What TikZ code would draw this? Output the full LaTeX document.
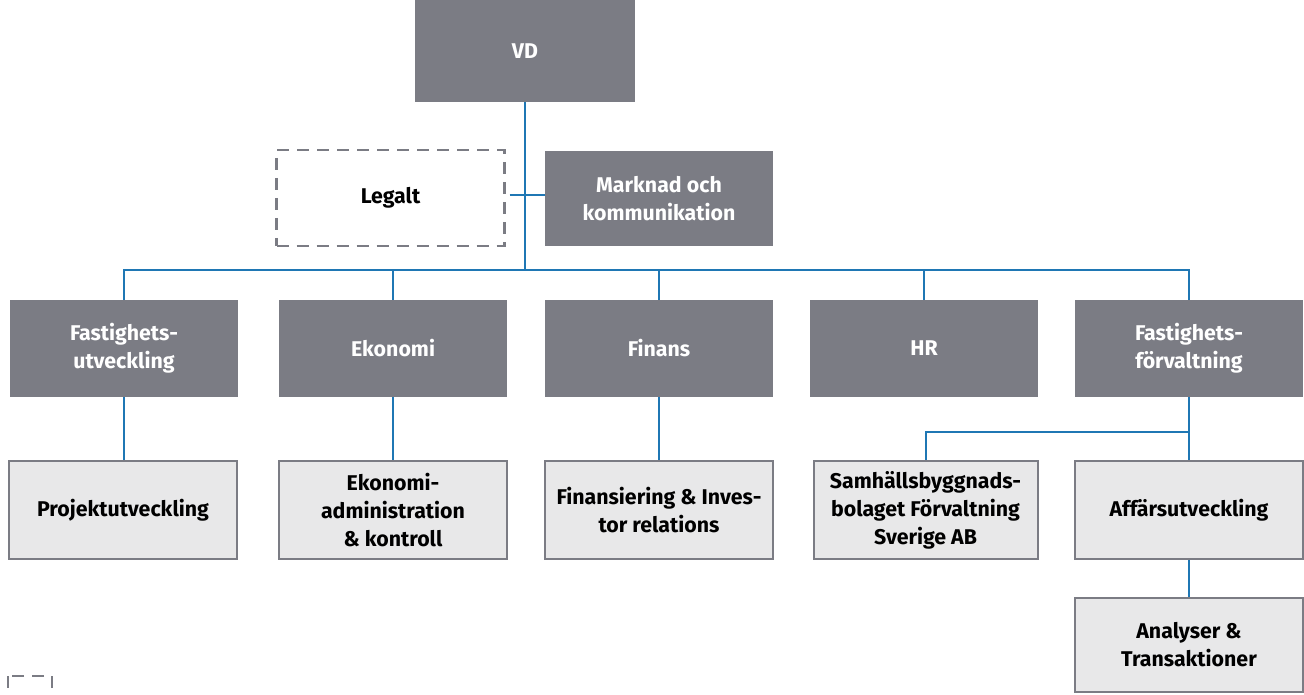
\documentclass[tikz,border=0pt]{standalone}
\usepackage{fontspec}
\setmainfont{Fira Sans}
\definecolor{boxgray}{HTML}{7B7C84}
\definecolor{boxlight}{HTML}{E8E8E9}
\definecolor{linkblue}{HTML}{1F77B4}
\tikzset{
	unit/.style={rectangle, minimum width=171pt, align=center, inner sep=2pt,
		font=\fontsize{16}{21}\selectfont\bfseries},
	dept/.style={unit, fill=boxgray, text=white, minimum height=72.75pt},
	group/.style={unit, fill=boxlight, draw=boxgray, line width=1.5pt, text=black, minimum height=73pt},
	staff/.style={unit, draw=boxgray, dash pattern=on 9pt off 6pt, line width=1.8pt, text=black, minimum height=72pt},
	link/.style={draw=linkblue, line width=1.5pt}
}

\begin{document}
\begin{tikzpicture}[x=0.75pt, y=-0.75pt]
			%%%%% START %%%%%
			
			\useasboundingbox (0, 0) rectangle (1304, 695);
			
			\node[dept, minimum width=165pt, minimum height=76.5pt] (vd) at (525, 51) {VD};
			
			\node[staff] (legalt) at (390.5, 198) {Legalt};
			\node[dept, minimum height=71pt] (marknad) at (659, 198.5) {Marknad och\\kommunikation};
			
			\coordinate (bus) at (525, 270);
			
			\node[dept] (futv) at (124, 348.5) {Fastighets-\\utveckling};
			\node[dept] (ekonomi) at (393, 348.5) {Ekonomi};
			\node[dept] (finans) at (659, 348.5) {Finans};
			\node[dept] (hr) at (924, 348.5) {HR};
			\node[dept] (fforv) at (1189, 348.5) {Fastighets-\\förvaltning};
			
			\node[group] (projekt) at (123, 510) {Projektutveckling};
			\node[group] (ekadm) at (393, 510) {Ekonomi-\\administration\\\& kontroll};
			\node[group] (finansiering) at (659, 510) {Finansiering \& Inves-\\tor relations};
			\node[group, minimum width=168pt] (samhall) at (925.5, 510) {Samhällsbyggnads-\\bolaget Förvaltning\\Sverige AB};
			\node[group] (affar) at (1189, 510) {Affärsutveckling};
			\node[group, minimum height=71pt] (analys) at (1189, 645) {Analyser \&\\Transaktioner};
			
			\coordinate (fbranch) at (1189, 432);
			
			\draw[link] (vd.south) -- (bus);
			\draw[link] (legalt.east) ++(3pt, 2pt) coordinate (lstub) -- (lstub -| marknad.west);
			\draw[link] (bus) -| (futv.north);
			\draw[link] (bus) -| (ekonomi.north);
			\draw[link] (bus) -| (finans.north);
			\draw[link] (bus) -| (hr.north);
			\draw[link] (bus) -| (fforv.north);
			
			\draw[link] (futv.south) -- (projekt.north -| futv.south);
			\draw[link] (ekonomi.south) -- (ekadm.north);
			\draw[link] (finans.south) -- (finansiering.north);
			\draw[link] (fforv.south) -- (affar.north);
			\draw[link] (fbranch) -| (samhall.north);
			\draw[link] (affar.south) -- (analys.north);
			
			\draw[draw=boxgray, dash pattern=on 9pt off 6pt, line width=1.8pt] (8, 676) rectangle (52, 740);
			
			%%%%% END %%%%%
\end{tikzpicture}
\end{document}
